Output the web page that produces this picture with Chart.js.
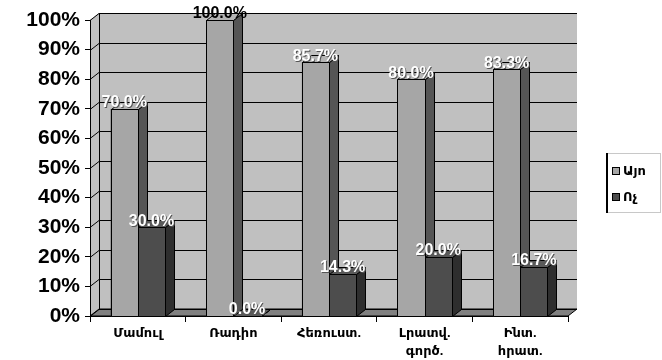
<!DOCTYPE html>
<html>
<head>
<meta charset="utf-8">
<script src="https://cdn.jsdelivr.net/npm/chart.js@4.4.1/dist/chart.umd.min.js"></script>
<style>
  html, body { margin: 0; padding: 0; background: #fff; }
  #wrap { width: 662px; height: 360px; position: relative; }
</style>
</head>
<body>
<div id="wrap"><canvas id="chart"></canvas></div>
<script>
// chart data
const categories = ['Մամուլ', 'Ռադիո', 'Հեռուստ.', ['Լրատվ.', 'գործ.'], ['Ինտ.', 'հրատ.']];
const seriesNames = ['Այո', 'Ոչ'];
const yesValues = [70.0, 100.0, 85.7, 80.0, 83.3];
const noValues = [30.0, 0.0, 14.3, 20.0, 16.7];
const yTicks = { min: 0, max: 100, step: 10 };

// 3d depth of walls / bars
const DX = 9, DY = 7;
const FONT = 'Arial, "Liberation Sans", "DejaVu Sans", sans-serif';

// walls, floor and back grid lines
const wallsPlugin = {
    id: 'walls',
    beforeDraw(chart) {
        const ctx = chart.ctx;
        const a = chart.chartArea;
        const y = chart.scales.y;
        ctx.save();
        ctx.fillStyle = '#fff';
        ctx.fillRect(0, 0, chart.width, chart.height);

        // left wall + back wall
        ctx.fillStyle = '#c0c0c0';
        ctx.beginPath();
        ctx.moveTo(a.left, a.top);
        ctx.lineTo(a.left + DX, a.top - DY);
        ctx.lineTo(a.left + DX, a.bottom - DY);
        ctx.lineTo(a.left, a.bottom);
        ctx.closePath();
        ctx.fill();
        ctx.fillRect(a.left + DX, a.top - DY, a.right - a.left, a.bottom - a.top);

        // floor
        ctx.fillStyle = '#808080';
        ctx.strokeStyle = '#000';
        ctx.lineWidth = 1;
        ctx.beginPath();
        ctx.moveTo(a.left, a.bottom);
        ctx.lineTo(a.right, a.bottom);
        ctx.lineTo(a.right + DX, a.bottom - DY);
        ctx.lineTo(a.left + DX, a.bottom - DY);
        ctx.closePath();
        ctx.fill();
        ctx.stroke();

        // grid lines on the walls
        ctx.beginPath();
        for (let v = yTicks.min; v <= yTicks.max; v += yTicks.step) {
            const py = Math.round(y.getPixelForValue(v)) + 0.5;
            ctx.moveTo(a.left, py);
            ctx.lineTo(a.left + DX, py - DY);
            ctx.lineTo(a.right + DX, py - DY);
        }
        ctx.moveTo(a.left + DX + 0.5, a.top - DY);
        ctx.lineTo(a.left + DX + 0.5, a.bottom - DY);
        ctx.stroke();
        ctx.restore();
    }
};

// redraw every bar as a box (front, side, top), left to right so overlaps are right
const barBoxPlugin = {
    id: 'barBoxes',
    afterDatasetsDraw(chart) {
        const ctx = chart.ctx;
        ctx.save();
        ctx.strokeStyle = '#000';
        ctx.lineWidth = 1;
        for (let j = 0; j < chart.data.labels.length; j++) {
            chart.data.datasets.forEach((ds, i) => {
                const bar = chart.getDatasetMeta(i).data[j];
                const p = bar.getProps(['x', 'y', 'base', 'width'], true);
                const l = Math.round(p.x - p.width / 2) + 0.5;
                const r = Math.round(p.x + p.width / 2) + 0.5;
                const t = Math.round(p.y) + 0.5, b = Math.round(p.base) + 0.5;
                const face = (pts, color) => {
                    ctx.fillStyle = color;
                    ctx.beginPath();
                    ctx.moveTo(pts[0][0], pts[0][1]);
                    pts.slice(1).forEach(q => ctx.lineTo(q[0], q[1]));
                    ctx.closePath();
                    ctx.fill();
                    ctx.stroke();
                };
                face([[l, t], [r, t], [r, b], [l, b]], ds.backgroundColor);
                face([[r, t], [r + DX, t - DY], [r + DX, b - DY], [r, b]], ds.sideColor);
                face([[l, t], [l + DX, t - DY], [r + DX, t - DY], [r, t]], ds.topColor);
            });
        }
        ctx.restore();
    }
};

// value labels and legend
const labelsPlugin = {
    id: 'valueLabels',
    afterDraw(chart) {
        const ctx = chart.ctx;
        const a = chart.chartArea;
        ctx.save();
        ctx.font = 'bold 16px ' + FONT;
        ctx.textAlign = 'center';
        ctx.textBaseline = 'middle';
        chart.data.datasets.forEach((ds, i) => {
            chart.getDatasetMeta(i).data.forEach((bar, j) => {
                const txt = ds.data[j].toFixed(1) + '%';
                const tx = bar.x, ty = bar.y - 6;
                if (ty < a.top) {
                    ctx.fillStyle = '#000';
                    ctx.fillText(txt, tx, ty);
                } else {
                    ctx.fillStyle = '#555';
                    ctx.fillText(txt, tx + 1, ty + 1);
                    ctx.fillStyle = '#fff';
                    ctx.fillText(txt, tx, ty);
                }
            });
        });

        // legend box
        const lx = 606, ly = 153, lw = 54, lh = 59;
        ctx.strokeStyle = '#c8c8c8';
        ctx.lineWidth = 1;
        ctx.strokeRect(lx + 0.5, ly + 0.5, lw, lh);
        ctx.strokeStyle = '#000';
        ctx.lineWidth = 2;
        ctx.beginPath();
        ctx.moveTo(lx + 1, ly);
        ctx.lineTo(lx + 1, ly + lh + 1);
        ctx.stroke();
        ctx.font = 'bold 13px ' + FONT;
        ctx.textAlign = 'left';
        chart.data.datasets.forEach((ds, i) => {
            const iy = ly + 18 + i * 26;
            ctx.fillStyle = ds.backgroundColor;
            ctx.fillRect(612, iy - 4, 8, 8);
            ctx.strokeStyle = '#000';
            ctx.lineWidth = 1;
            ctx.strokeRect(612.5, iy - 3.5, 7, 7);
            ctx.fillStyle = '#000';
            ctx.fillText(ds.label, 623, iy);
        });
        ctx.restore();
    }
};

new Chart(document.getElementById('chart'), {
    type: 'bar',
    data: {
        labels: categories,
        datasets: [
            {
                label: seriesNames[0],
                data: yesValues,
                backgroundColor: '#a6a6a6',
                sideColor: '#555555',
                topColor: '#b4b4b4',
                borderColor: '#000',
                borderWidth: 1
            },
            {
                label: seriesNames[1],
                data: noValues,
                backgroundColor: '#4d4d4d',
                sideColor: '#2e2e2e',
                topColor: '#5a5a5a',
                borderColor: '#000',
                borderWidth: 1
            }
        ]
    },
    options: {
        responsive: true,
        maintainAspectRatio: false,
        animation: false,
        categoryPercentage: 0.57,
        barPercentage: 1.0,
        layout: { padding: { left: 0, right: 94, top: 20, bottom: 0 } },
        plugins: {
            legend: { display: false },
            tooltip: { enabled: false }
        },
        scales: {
            x: {
                afterFit: s => { s.height = 44; },
                grid: { drawOnChartArea: false, tickLength: 6, color: '#000' },
                border: { color: '#000' },
                ticks: {
                    color: '#000',
                    padding: 3,
                    font: { family: FONT, size: 13, weight: 'bold', lineHeight: 1.35 },
                    maxRotation: 0,
                    autoSkip: false
                }
            },
            y: {
                min: yTicks.min,
                max: yTicks.max,
                afterFit: s => { s.width = 90; },
                grid: { drawOnChartArea: false, tickLength: 5, color: '#000' },
                border: { color: '#000' },
                ticks: {
                    stepSize: yTicks.step,
                    color: '#000',
                    padding: 5,
                    font: { family: FONT, size: 21, weight: 'bold' },
                    callback: v => v + '%'
                }
            }
        }
    },
    plugins: [wallsPlugin, barBoxPlugin, labelsPlugin]
});
</script>
</body>
</html>
